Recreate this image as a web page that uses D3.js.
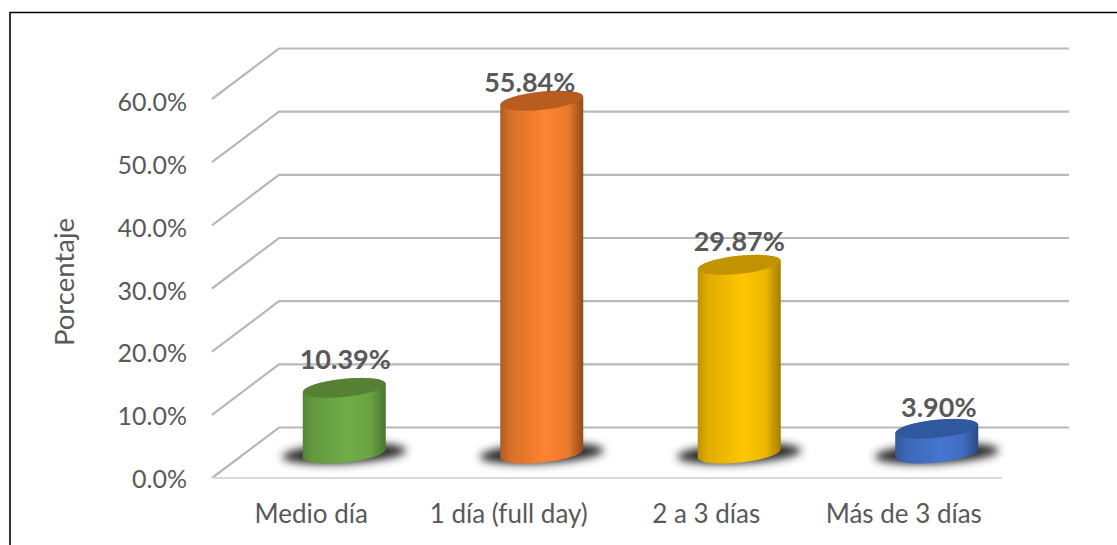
<!DOCTYPE html>
<html><head><meta charset="utf-8">
<script src="https://cdn.jsdelivr.net/npm/d3@7"></script>
<style>html,body{margin:0;background:#fff}svg{display:block}text{font-family:Lato,sans-serif}</style>
</head><body><svg id="c" width="1117" height="545"></svg>
<script>
const categories=["Medio día","1 día (full day)","2 a 3 días","Más de 3 días"];
const values=[10.39,55.84,29.87,3.90];
const valueLabels=["10.39%","55.84%","29.87%","3.90%"];
const sideColors=["#70ad47","#ff8430","#ffc600","#4676cf"];
const edgeColors=["#4a7530","#8f4a1c","#a67c00","#2a4a85"];
const topColors=["#568134","#b95c20","#c29200","#30589f"];
const ticks=[0,10,20,30,40,50,60];
const tickFormat=d=>d.toFixed(1)+"%";

const svg=d3.select("#c");
const y=d3.scaleLinear().domain([0,60]).range([427.5,48.5]);   // back wall
const yLabel=d3.scaleLinear().domain([0,60]).range([488,111]); // tick label baselines
const dx=67, dy=50.5;                                          // depth offset
const x=d3.scaleBand().domain(categories).range([245.5,1035.5]);
const rx=41.5, ry=9, rot=-6, midDy=26;
const sinT=Math.sin(-rot*Math.PI/180)*rx;
const labelNudge=[[1,-19],[-12,-9],[0,-14],[2,-12]];           // hand-placed data labels

const defs=svg.append("defs");
const blur=defs.append("filter").attr("id","blur").attr("x","-30%").attr("y","-80%").attr("width","160%").attr("height","260%");
blur.append("feGaussianBlur").attr("stdDeviation",4.5);
categories.forEach((c,i)=>{
  const g=defs.append("linearGradient").attr("id","g"+i);
  const mix=d3.interpolateRgb(sideColors[i],edgeColors[i]);
  [[0,mix(.7)],[.12,mix(.35)],[.55,mix(0)],[.82,mix(.2)],[1,mix(1)]]
    .forEach(s=>g.append("stop").attr("offset",s[0]).attr("stop-color",s[1]));
});

// frame
svg.append("path").attr("d","M10,545V12.5H1117").attr("fill","none").attr("stroke","#000").attr("stroke-width",1.6);

// gridlines
const grid=svg.append("g").attr("fill","none");
grid.selectAll("path").data(ticks).join("path")
  .attr("d",d=>`M${279-dx},${y(d)+dy}L279,${y(d)}H1069`)
  .attr("stroke","#b8b8b8").attr("stroke-width",2.2);
grid.append("path").attr("d",`M212,${y(0)+dy}H1002`).attr("stroke","#d9d9d9").attr("stroke-width",2);

// y tick labels
svg.append("g").selectAll("text").data(ticks).join("text")
  .attr("x",187).attr("y",d=>yLabel(d)).attr("text-anchor","end")
  .attr("font-size",25).attr("fill","#595959").text(tickFormat);

svg.append("text").attr("transform","translate(74,282) rotate(-90)").attr("text-anchor","middle")
  .attr("font-size",27.5).attr("fill","#595959").text("Porcentaje");

// category labels
const cx=d=>x(d)+x.bandwidth()/2;
svg.append("g").selectAll("text").data(categories).join("text")
  .attr("x",d=>cx(d)-33).attr("y",523).attr("text-anchor","middle")
  .attr("font-size",26).attr("fill","#595959").text(d=>d);

// bars
const base=y(0)+midDy;
const topY=i=>base-(y(0)-y(values[i]));
const bars=svg.append("g").selectAll("g").data(categories).join("g");
bars.append("ellipse").attr("cx",cx).attr("cy",base).attr("rx",62).attr("ry",10)
  .attr("transform",d=>`rotate(-3 ${cx(d)} ${base})`)
  .attr("fill","#2b2b2b").attr("filter","url(#blur)");
bars.append("path").attr("fill",(d,i)=>`url(#g${i})`)
  .attr("d",(d,i)=>{
    const xc=cx(d), t=topY(i), a=`A${rx},${ry} ${rot} 0 1`;
    return `M${xc-rx},${t+sinT}${a} ${xc+rx},${t-sinT}V${base-sinT}${a} ${xc-rx},${base+sinT}Z`;
  });
bars.append("ellipse").attr("cx",cx).attr("cy",(d,i)=>topY(i))
  .attr("rx",rx).attr("ry",ry)
  .attr("transform",(d,i)=>`rotate(${rot} ${cx(d)} ${topY(i)})`)
  .attr("fill",(d,i)=>topColors[i]);

// value labels
svg.append("g").selectAll("text").data(categories).join("text")
  .attr("x",(d,i)=>cx(d)+labelNudge[i][0]).attr("y",(d,i)=>topY(i)+labelNudge[i][1])
  .attr("text-anchor","middle").attr("font-size",27).attr("font-weight",700)
  .attr("fill","#595959").text((d,i)=>valueLabels[i]);
</script></body></html>
